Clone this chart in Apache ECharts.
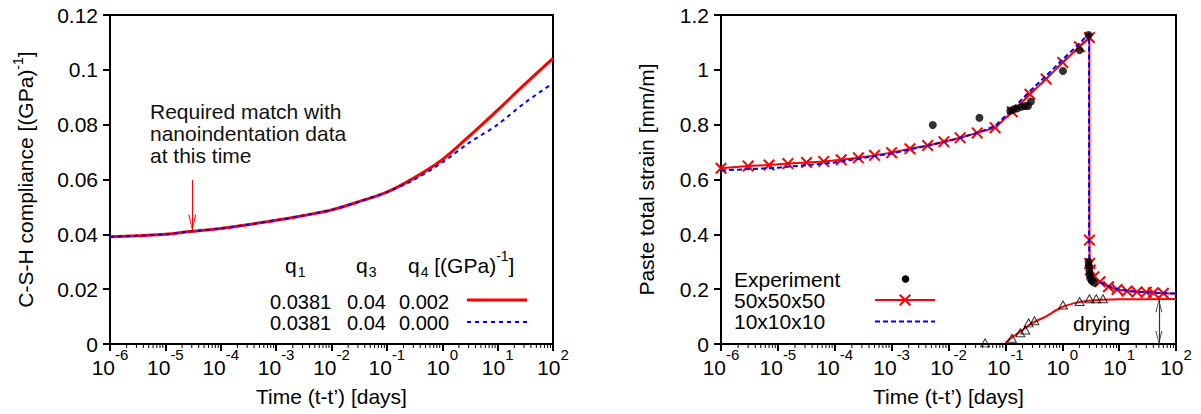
<!DOCTYPE html>
<html><head><meta charset="utf-8">
<script src="https://cdn.jsdelivr.net/npm/echarts@6/dist/echarts.min.js"></script>
<style>html,body{margin:0;padding:0;background:#fff}#c{width:1201px;height:414px}</style>
</head><body><div id="c"></div>
<script>
const FONT = "'Liberation Sans', Arial, Helvetica, sans-serif";

// ---------- shared axis data ----------
const xExponents = [-6, -5, -4, -3, -2, -1, 0, 1, 2];
const minorMultipliers = [2, 3, 4, 5, 6, 7, 8, 9];

// ---------- left panel: C-S-H compliance ----------
const leftTimes = [1e-6, 3e-6, 1e-5, 3e-5, 1e-4, 3e-4, 1e-3, 3e-3, 1e-2, 3e-2, 1e-1, 3e-1, 1, 3, 10, 30, 100];
const leftQ4_002 = [0.0391, 0.0395, 0.0400, 0.0411, 0.0421, 0.0435, 0.0451, 0.0468, 0.0489, 0.0518, 0.0554, 0.0604, 0.0672, 0.0756, 0.0853, 0.0945, 0.1042];
const leftQ4_000 = [0.0391, 0.0395, 0.0400, 0.0411, 0.0421, 0.0435, 0.0451, 0.0468, 0.0489, 0.0518, 0.0554, 0.0598, 0.0662, 0.0733, 0.0800, 0.0878, 0.0951];
const leftYTicks = [0, 0.02, 0.04, 0.06, 0.08, 0.1, 0.12];
const arrowTime = 3.06e-5, arrowTop = 0.0598, arrowTip = 0.0413;
const tableQ1 = ['0.0381', '0.0381'];
const tableQ3 = ['0.04', '0.04'];
const tableQ4 = ['0.002', '0.000'];

// ---------- right panel: paste total strain ----------
const sim50Times = [1e-6, 3e-6, 7e-6, 1.5e-5, 3.2e-5, 6.4e-5, 1.3e-4, 2.6e-4, 5e-4, 1e-3, 2.1e-3, 4.3e-3, 8.3e-3, 1.6e-2, 3.2e-2, 6.6e-2, 0.132, 0.27, 0.52, 1.02, 2.0, 3.0, 3.01, 3.04, 3.12, 3.6, 4.6, 6.5, 9.2, 13.8, 20.6, 30, 40, 60, 100];
const sim50 = [0.641, 0.649, 0.653, 0.658, 0.662, 0.666, 0.672, 0.679, 0.688, 0.698, 0.712, 0.724, 0.738, 0.752, 0.770, 0.789, 0.847, 0.911, 0.967, 1.027, 1.084, 1.118, 0.379, 0.294, 0.270, 0.245, 0.227, 0.209, 0.199, 0.193, 0.190, 0.189, 0.187, 0.185, 0.183];
const sim10Times = [1e-6, 1e-5, 1e-4, 1e-3, 1e-2, 3.2e-2, 6.6e-2, 0.132, 0.27, 0.52, 1.02, 2.0, 2.95, 2.96, 3.0, 3.1, 3.4, 4, 5, 7, 10, 20, 50, 100];
const sim10 = [0.633, 0.643, 0.662, 0.695, 0.740, 0.770, 0.795, 0.857, 0.922, 0.978, 1.038, 1.096, 1.133, 0.380, 0.290, 0.265, 0.245, 0.232, 0.222, 0.208, 0.199, 0.191, 0.186, 0.184];
const expTimes = [5.3e-3, 3.5e-2, 0.122, 0.14, 0.16, 0.19, 0.22, 0.25, 0.28, 1.03, 2.02, 2.9, 2.9, 2.95, 3.0, 3.05, 3.1, 3.3, 3.6];
const expStrain = [0.799, 0.825, 0.851, 0.856, 0.859, 0.865, 0.868, 0.868, 0.884, 0.996, 1.072, 1.127, 0.300, 0.285, 0.268, 0.252, 0.240, 0.231, 0.224];
const dryExpTimes = [0.044, 0.13, 0.183, 0.224, 0.257, 0.324, 1.03, 2.02, 3.0, 3.96, 5.2];
const dryExp = [0.004, 0.021, 0.041, 0.051, 0.077, 0.085, 0.142, 0.155, 0.165, 0.165, 0.165];
const dryFitTimes = [0.1, 0.13, 0.2, 0.3, 0.5, 1, 2, 3, 5, 10, 100];
const dryFit = [0.004, 0.024, 0.051, 0.077, 0.099, 0.135, 0.153, 0.158, 0.161, 0.163, 0.164];
const rightYTicks = [0, 0.2, 0.4, 0.6, 0.8, 1, 1.2];
const dryingArrowTime = 50, dryingArrowTop = 0.163;

// ---------- helpers ----------
const zip = (xs, ys) => xs.map((x, i) => [x, ys[i]]);
const minorTicks = [];
xExponents.slice(0, -1).forEach(e => minorMultipliers.forEach(m => minorTicks.push([m * Math.pow(10, e), 0])));
const CHEVRON = 'path://M5,-16L5,-16M5,0L10,16L8.6,16L5,3L1.4,16L0,16Z';
const XPTS = [[0,1.2],[1.2,0],[5,3.8],[8.8,0],[10,1.2],[6.2,5],[10,8.8],[8.8,10],[5,6.2],[1.2,10],[0,8.8],[3.8,5]];
const XMARK = 'path://M' + XPTS.map(p => p.join(',')).join('L') + 'Z';

const supRich = { p: { fontSize: 15, fontFamily: FONT, color: '#000', padding: [0, 0, 26, 0], lineHeight: 15 } };
const nameRich = { p: { fontSize: 14, fontFamily: FONT, color: '#000', padding: [0, 0, 16, 0], lineHeight: 14 } };

function xAxisCfg(gridIndex) {
  return {
    type: 'log', logBase: 10, gridIndex,
    min: Math.pow(10, xExponents[0]), max: Math.pow(10, xExponents[xExponents.length - 1]),
    splitNumber: xExponents.length - 1,
    name: 'Time (t-t\u2019) [days]', nameLocation: 'middle', nameGap: 42, nameMoveOverlap: false,
    nameTextStyle: { fontSize: 21, fontFamily: FONT, color: '#000' },
    axisLine: { show: true, onZero: false, lineStyle: { color: '#000', width: 2 } },
    axisTick: { show: true, length: 7, lineStyle: { color: '#000', width: 2 } },
    splitLine: { show: false },
    axisLabel: {
      color: '#000', fontSize: 21, fontFamily: FONT, margin: 13,
      formatter: v => '10{p|' + Math.round(Math.log10(v)) + '}',
      rich: supRich
    }
  };
}
function yAxisCfg(gridIndex, ticks, name, gap) {
  return {
    type: 'value', gridIndex,
    min: ticks[0], max: ticks[ticks.length - 1], interval: ticks[1] - ticks[0],
    name, nameLocation: 'middle', nameGap: gap,
    nameTextStyle: { fontSize: 21, fontFamily: FONT, color: '#000', rich: nameRich },
    axisLine: { show: true, onZero: false, lineStyle: { color: '#000', width: 2 } },
    axisTick: { show: true, length: 7, lineStyle: { color: '#000', width: 2 } },
    splitLine: { show: false },
    axisLabel: { color: '#000', fontSize: 21, fontFamily: FONT, margin: 12 }
  };
}
function minorTickSeries(idx) {
  return {
    type: 'custom', xAxisIndex: idx, yAxisIndex: idx, silent: true, clip: false, z: 10,
    data: minorTicks,
    renderItem: (params, api) => {
      const p = api.coord([api.value(0), api.value(1)]);
      return { type: 'line', shape: { x1: p[0], y1: p[1], x2: p[0], y2: p[1] + 4 }, style: { stroke: '#000', lineWidth: 1 } };
    }
  };
}

const txt = (x, y, text, extra) => ({
  type: 'text', x, y, silent: true,
  style: Object.assign({ text, fill: '#000', fontSize: 21, fontFamily: FONT, align: 'left', verticalAlign: 'middle' }, extra || {})
});
const subRich = {
  s: { fontSize: 14, fontFamily: FONT, padding: [14, 0, 0, 1], lineHeight: 14 },
  p: { fontSize: 14, fontFamily: FONT, padding: [0, 0, 18, 0], lineHeight: 14 }
};
const rowStyle = { fontSize: 20, lineHeight: 15 };
const xCenter = 905, yCenter = 300, xSize = 12;
const xPolygon = XPTS.map(p => [xCenter - xSize / 2 + p[0] * xSize / 10, yCenter - xSize / 2 + p[1] * xSize / 10]);

const gridBase = { top: 15, bottom: 70, show: true, borderColor: '#000', borderWidth: 2, containLabel: false, outerBoundsMode: 'none' };
const option = {
  animation: false,
  backgroundColor: '#fff',
  grid: [
    Object.assign({ left: 110, right: 648 }, gridBase),
    Object.assign({ left: 721, right: 25 }, gridBase)
  ],
  xAxis: [xAxisCfg(0), xAxisCfg(1)],
  yAxis: [
    yAxisCfg(0, leftYTicks, 'C-S-H compliance [(GPa){p|-1}]', 74),
    yAxisCfg(1, rightYTicks, 'Paste total strain [mm/m]', 64)
  ],
  series: [
    minorTickSeries(0),
    minorTickSeries(1),
    {
      name: 'q4 = 0.002', type: 'line', xAxisIndex: 0, yAxisIndex: 0, smooth: 0.3, showSymbol: false,
      data: zip(leftTimes, leftQ4_002), lineStyle: { color: '#ff0000', width: 3 }, z: 3,
      markLine: {
        silent: true, animation: false, symbol: ['none', CHEVRON], symbolSize: [8, 32],
        lineStyle: { color: '#ff0000', width: 1, type: 'solid' }, label: { show: false },
        data: [[{ coord: [arrowTime, arrowTop] }, { coord: [arrowTime, arrowTip] }]]
      }
    },
    {
      name: 'q4 = 0.000', type: 'line', xAxisIndex: 0, yAxisIndex: 0, smooth: 0.3, showSymbol: false,
      data: zip(leftTimes, leftQ4_000), lineStyle: { color: '#0000ff', width: 2, type: [4, 4] }, z: 4
    },
    {
      name: '50x50x50', type: 'line', xAxisIndex: 1, yAxisIndex: 1, symbol: XMARK, symbolSize: 12,
      data: zip(sim50Times, sim50).map((d, i, a) => i === a.length - 1 ? { value: d, symbol: 'none' } : d),
      lineStyle: { color: '#ff0000', width: 2 }, itemStyle: { color: '#ff0000' }, z: 3
    },
    {
      name: '10x10x10', type: 'line', xAxisIndex: 1, yAxisIndex: 1, showSymbol: false,
      data: zip(sim10Times, sim10), lineStyle: { color: '#0000ff', width: 2, type: [5, 3] }, z: 4
    },
    {
      name: 'Experiment', type: 'scatter', xAxisIndex: 1, yAxisIndex: 1, symbol: 'circle', symbolSize: 8,
      data: zip(expTimes, expStrain), itemStyle: { color: '#000' }, z: 5
    },
    {
      name: 'drying fit', type: 'line', xAxisIndex: 1, yAxisIndex: 1, smooth: 0.3, showSymbol: false,
      data: zip(dryFitTimes, dryFit), lineStyle: { color: '#ff0000', width: 2 }, z: 3,
      markLine: {
        silent: true, animation: false, symbol: [CHEVRON, CHEVRON], symbolSize: [7, 26],
        lineStyle: { color: '#333', width: 1.2, type: 'solid' }, label: { show: false },
        data: [[{ coord: [dryingArrowTime, dryingArrowTop] }, { coord: [dryingArrowTime, 0] }]]
      }
    },
    {
      name: 'drying exp', type: 'scatter', xAxisIndex: 1, yAxisIndex: 1, symbol: 'triangle', symbolSize: [9, 8],
      data: zip(dryExpTimes, dryExp), itemStyle: { color: 'rgba(255,255,255,0)', borderColor: '#000', borderWidth: 1 }, z: 6
    }
  ],
  graphic: [
    txt(150, 100, 'Required match with\nnanoindentation data\nat this time', { verticalAlign: 'top', lineHeight: 22, fill: '#111' }),
    txt(285, 265, 'q{s|1}', { rich: subRich }),
    txt(356, 265, 'q{s|3}', { rich: subRich }),
    txt(408, 265, 'q{s|4} [(GPa){p|-1}]', { rich: subRich }),
    txt(270, 302, tableQ1[0], rowStyle), txt(347, 302, tableQ3[0], rowStyle), txt(399, 302, tableQ4[0], rowStyle),
    txt(270, 323, tableQ1[1], rowStyle), txt(347, 323, tableQ3[1], rowStyle), txt(399, 323, tableQ4[1], rowStyle),
    { type: 'line', silent: true, shape: { x1: 467, y1: 300, x2: 527, y2: 300 }, style: { stroke: '#ff0000', lineWidth: 3 } },
    { type: 'line', silent: true, shape: { x1: 467, y1: 322, x2: 527, y2: 322 }, style: { stroke: '#0000ff', lineWidth: 2, lineDash: [4, 4] } },
    txt(734, 279, 'Experiment', { lineHeight: 19 }),
    txt(734, 300, '50x50x50', { lineHeight: 19 }),
    txt(734, 321, '10x10x10', { lineHeight: 19 }),
    { type: 'circle', silent: true, shape: { cx: 905.5, cy: 279, r: 3.8 }, style: { fill: '#000' } },
    { type: 'line', silent: true, shape: { x1: 875, y1: 300, x2: 935, y2: 300 }, style: { stroke: '#ff0000', lineWidth: 2 } },
    { type: 'polygon', silent: true, shape: { points: xPolygon }, style: { fill: '#ff0000' } },
    { type: 'line', silent: true, shape: { x1: 875, y1: 321.5, x2: 935, y2: 321.5 }, style: { stroke: '#0000ff', lineWidth: 2, lineDash: [5, 3] } },
    txt(1073, 323, 'drying')
  ]
};
const chart = echarts.init(document.getElementById('c'), null, { renderer: 'svg' });
chart.setOption(option);
</script>
</body></html>
